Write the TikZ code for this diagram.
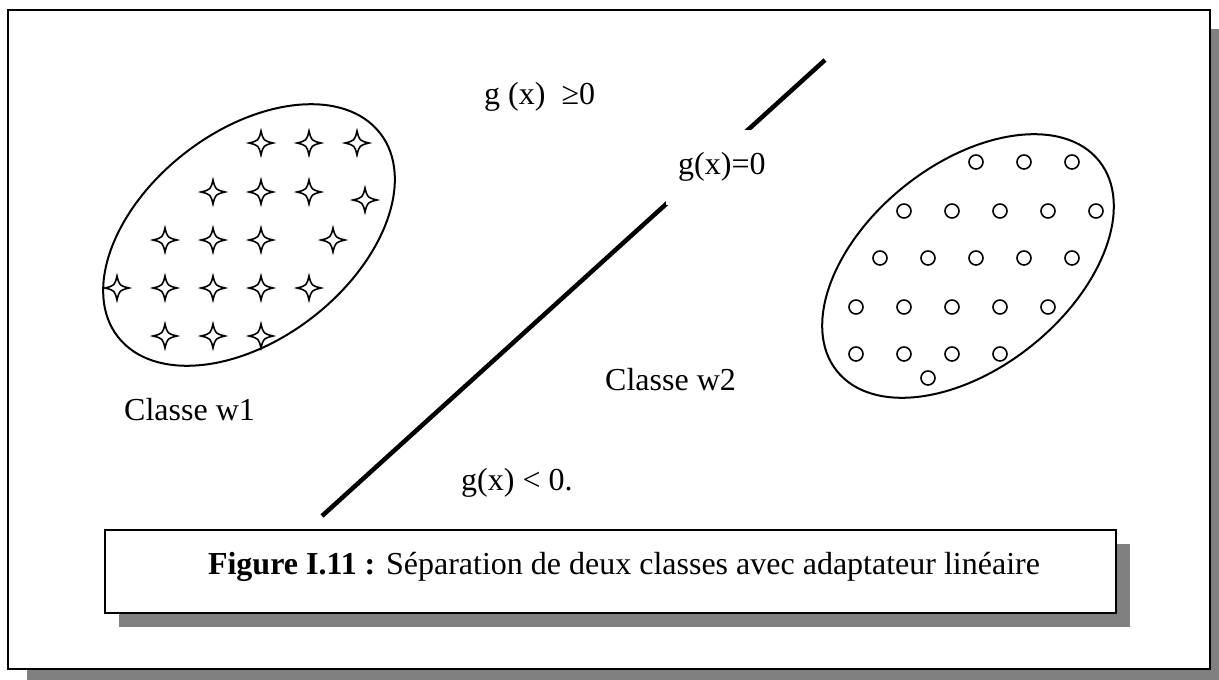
\documentclass[tikz,border=0pt]{standalone}
\usepackage{fontspec}
\setmainfont{Liberation Serif}
\tikzset{
  shadowfill/.style={fill=black!50, draw=none},
  frameline/.style={draw=black, line width=2pt, fill=white},
  ell/.style={draw=black, line width=2pt},
  sepline/.style={draw=black, line width=4.5pt},
  lbl/.style={inner sep=0pt, font=\fontsize{32}{38}\selectfont},
  dotc/.style={circle, draw=black, line width=1.6pt, minimum size=14pt, inner sep=0pt},
  fourstar/.pic={\draw[black, line width=1.6pt, fill=white]
    (0,-12) .. controls (2.4,-2.4) .. (12,0) .. controls (2.4,2.4) .. (0,12)
    .. controls (-2.4,2.4) .. (-12,0) .. controls (-2.4,-2.4) .. (0,-12) -- cycle;}
}
\begin{document}
\begin{tikzpicture}[x=1pt,y=-1pt]
\useasboundingbox (0,0) rectangle (1219,680);
% outer frame
\fill[shadowfill] (27,29) rectangle (1229,690);
\path[frameline] (8,10) rectangle (1210,669);
% left class ellipse
\path[ell, rotate around={37.8:(249,235)}] (249,235) ellipse [x radius=166, y radius=104];
\foreach \p [count=\i] in {(261,143),(309,143),(357,143),
  (213,192),(261,192),(309,192),(365,200),
  (165,240),(213,240),(261,240),(333,240),
  (117,288),(165,288),(213,288),(261,288),(309,288),
  (165,336),(213,336),(261,336)}
  \pic (s\i) at \p {fourstar};
% right class ellipse
\path[ell, rotate around={38.7:(968,266)}] (968,266) ellipse [x radius=168, y radius=102];
\foreach \p [count=\i] in {(976,162),(1024,162),(1072,162),
  (904,211),(952,211),(1000,211),(1048,211),(1096,211),
  (880,258),(928,258),(976,258),(1024,258),(1072,258),
  (856,307),(904,307),(952,307),(1000,307),(1048,307),
  (856,354),(904,354),(952,354),(1000,354),
  (928,378)}
  \node[dotc] (c\i) at \p {};
% separating line
\coordinate (la) at (322,516);
\coordinate (lb) at (825,60);
\path[sepline] (la) -- (lb);
\node[fill=white, minimum width=110pt, minimum height=75pt, inner sep=0pt] (mask) at (720.5,167.5) {};
\node[lbl, anchor=base west] (g0) at (678,174) {g(x)=0};
% labels
\node[lbl, anchor=base west] (gpos) at (484,104) {g (x)\ \ ≥0};
\node[lbl, anchor=base west] (w2) at (605,390) {Classe w2};
\node[lbl, anchor=base west] (w1) at (124,420) {Classe w1};
\node[lbl, anchor=base west] (gneg) at (461,490) {g(x) < 0.};
% caption box
\fill[shadowfill] (119,544) rectangle (1130,627);
\path[frameline] (105,530) rectangle (1116,613);
\node[lbl, anchor=base] (cap) at (624,574) {\textbf{Figure I.11 :} Séparation de deux classes avec adaptateur linéaire};
\end{tikzpicture}
\end{document}
